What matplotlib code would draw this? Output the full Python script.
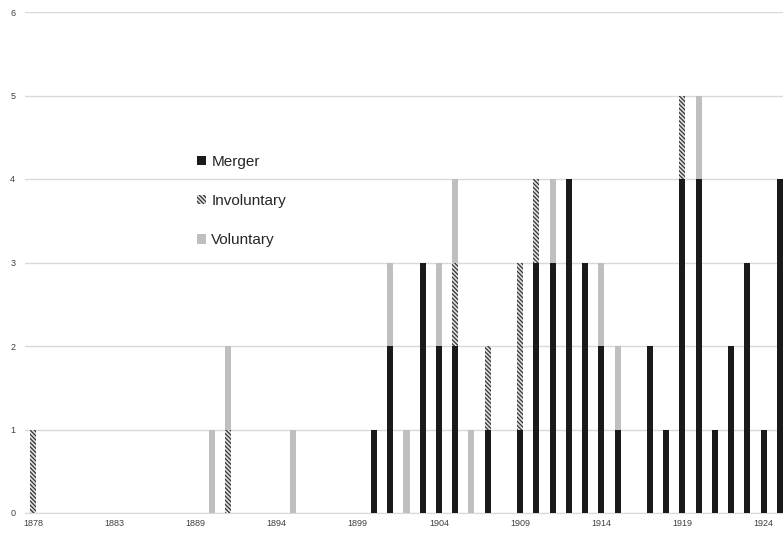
import matplotlib
matplotlib.use("Agg")
import matplotlib.pyplot as plt
import numpy as np

plt.rcParams['font.family'] = ['Liberation Sans', 'DejaVu Sans']
plt.rcParams['hatch.linewidth'] = 0.9

years = ([1878, 1879, 1880, 1881, 1882, 1883, 1884, 1885, 1887, 1888]
         + list(range(1889, 1926)))

merger_data = {1900: 1, 1901: 2, 1903: 3, 1904: 2, 1905: 2, 1907: 1, 1909: 1,
               1910: 3, 1911: 3, 1912: 4, 1913: 3, 1914: 2, 1915: 1, 1917: 2,
               1918: 1, 1919: 4, 1920: 4, 1921: 1, 1922: 2, 1923: 3, 1924: 1,
               1925: 4}
involuntary_data = {1878: 1, 1891: 1, 1905: 1, 1907: 1, 1909: 2, 1910: 1, 1919: 1}
voluntary_data = {1890: 1, 1891: 1, 1895: 1, 1901: 1, 1902: 1, 1904: 1, 1905: 1,
                  1906: 1, 1911: 1, 1914: 1, 1915: 1, 1920: 1}

merger = np.array([merger_data.get(y, 0) for y in years])
involuntary = np.array([involuntary_data.get(y, 0) for y in years])
voluntary = np.array([voluntary_data.get(y, 0) for y in years])
x = np.arange(len(years))

fig = plt.figure(figsize=(7.83, 5.33), dpi=100)
ax = fig.add_axes([25/783, 20/533, (788-25)/783, (513-12)/533])

w = 0.37
b1 = ax.bar(x, merger, w, color='#1a1a1a', label='Merger', zorder=3)
b2 = ax.bar(x, involuntary, w, bottom=merger, facecolor='#e0e0e0',
            edgecolor='#333333', linewidth=0, hatch='\\' * 8,
            label='Involuntary', zorder=3)
b3 = ax.bar(x, voluntary, w, bottom=merger+involuntary, color='#bfbfbf',
            label='Voluntary', zorder=3)

ax.set_xlim(-0.5, len(years)-0.5)
ax.set_ylim(0, 6)
ax.set_yticks(range(0, 7))
ax.yaxis.grid(True, color='#d9d9d9', linewidth=1, zorder=0)
ax.set_axisbelow(True)
for s in ['top', 'right', 'left']:
    ax.spines[s].set_visible(False)
ax.spines['bottom'].set_color('#d9d9d9')

tick_idx = list(range(0, len(years), 5))
ax.set_xticks(tick_idx)
ax.set_xticklabels([str(years[i]) for i in tick_idx], fontsize=6.5, color='#404040')
ax.tick_params(axis='both', length=0)
ax.tick_params(axis='x', pad=4)
ax.tick_params(axis='y', labelsize=6.5, labelcolor='#404040', pad=7)

leg = ax.legend(handles=[b1, b2, b3], loc='upper left',
                bbox_to_anchor=(158/763, (513-141)/501), frameon=False,
                fontsize=11, handlelength=0.6, handleheight=0.6,
                handletextpad=0.35, labelspacing=1.65)
for t in leg.get_texts():
    t.set_color('#262626')

fig.savefig('out.png', dpi=100)
